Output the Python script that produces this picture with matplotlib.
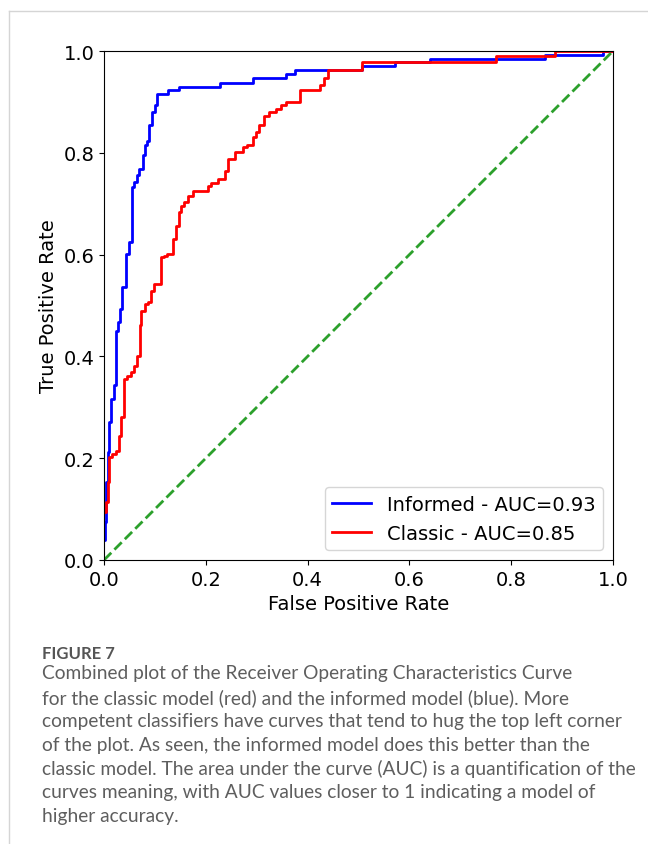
import matplotlib.pyplot as plt
from matplotlib.lines import Line2D

# ROC staircase corners: fpr where each vertical step sits, tpr reached after it
fpr_informed = [0.0, 0.001, 0.004, 0.007, 0.010, 0.013, 0.019, 0.023, 0.028, 0.032,
                0.036, 0.043, 0.050, 0.055, 0.058, 0.064, 0.069, 0.076, 0.081, 0.084,
                0.089, 0.095, 0.100, 0.105, 0.125, 0.147, 0.227, 0.293, 0.358, 0.375,
                0.506, 0.571, 0.640, 0.866, 0.980, 1.0]
tpr_informed = [0.04, 0.075, 0.153, 0.212, 0.271, 0.317, 0.343, 0.45, 0.467, 0.494,
                0.536, 0.602, 0.625, 0.733, 0.743, 0.756, 0.769, 0.795, 0.815, 0.824,
                0.854, 0.880, 0.893, 0.916, 0.923, 0.930, 0.938, 0.946, 0.954, 0.962,
                0.971, 0.978, 0.985, 0.993, 1.0, 1.0]

fpr_classic = [0.0, 0.004, 0.007, 0.010, 0.015, 0.023, 0.030, 0.034, 0.040, 0.046,
               0.053, 0.058, 0.064, 0.070, 0.073, 0.080, 0.086, 0.093, 0.099, 0.112,
               0.117, 0.123, 0.135, 0.142, 0.147, 0.152, 0.157, 0.165, 0.175, 0.204,
               0.211, 0.224, 0.237, 0.244, 0.257, 0.273, 0.280, 0.293, 0.299, 0.305,
               0.315, 0.325, 0.338, 0.348, 0.358, 0.386, 0.424, 0.433, 0.440, 0.506,
               0.771, 0.886, 1.0]
tpr_classic = [0.094, 0.113, 0.153, 0.202, 0.208, 0.215, 0.244, 0.28, 0.356, 0.362,
               0.369, 0.382, 0.40, 0.461, 0.49, 0.503, 0.506, 0.529, 0.543, 0.595,
               0.598, 0.601, 0.631, 0.657, 0.683, 0.696, 0.703, 0.716, 0.724, 0.735,
               0.740, 0.749, 0.765, 0.788, 0.801, 0.811, 0.816, 0.831, 0.840, 0.854,
               0.873, 0.880, 0.886, 0.893, 0.900, 0.923, 0.933, 0.946, 0.962, 0.978,
               0.990, 1.0, 1.0]

label_informed = "Informed - AUC=0.93"
label_classic = "Classic - AUC=0.85"

caption_title = "FIGURE 7"
caption_lines = [
    "Combined plot of the Receiver Operating Characteristics Curve",
    "for the classic model (red) and the informed model (blue). More",
    "competent classifiers have curves that tend to hug the top left corner",
    "of the plot. As seen, the informed model does this better than the",
    "classic model. The area under the curve (AUC) is a quantification of the",
    "curves meaning, with AUC values closer to 1 indicating a model of",
    "higher accuracy.",
]

plt.rcParams["font.size"] = 14

fig = plt.figure(figsize=(6.48, 8.45), dpi=100)
ax = fig.add_axes([104 / 648, 1 - 561 / 845, 509 / 648, 509 / 845])

ax.plot(fpr_informed, tpr_informed, color="blue", lw=2, drawstyle="steps-post",
        label=label_informed)
ax.plot(fpr_classic, tpr_classic, color="red", lw=2, drawstyle="steps-post",
        label=label_classic)
ax.plot([0, 1], [0, 1], color="#2ca02c", lw=2, linestyle="--")

ax.set_xlim(0, 1)
ax.set_ylim(0, 1)
ax.set_xlabel("False Positive Rate")
ax.set_ylabel("True Positive Rate")
ax.legend(loc="lower right")

# page frame lines
fig.add_artist(Line2D([9 / 648, 1], [1 - 12 / 845, 1 - 12 / 845], color="#d5d5d5", lw=1))
fig.add_artist(Line2D([9 / 648, 9 / 648], [0, 1 - 12 / 845], color="#d5d5d5", lw=1))

fig.text(42 / 648, 1 - 654 / 845, caption_title, family="Lato", weight="bold",
         fontsize=12, color="#555555", va="center")
for i, line in enumerate(caption_lines):
    fig.text(42 / 648, 1 - (674 + 23.8 * i) / 845, line, family="Lato",
             fontsize=13.8, color="#5e5e5e", va="center")

plt.savefig("out.png")
